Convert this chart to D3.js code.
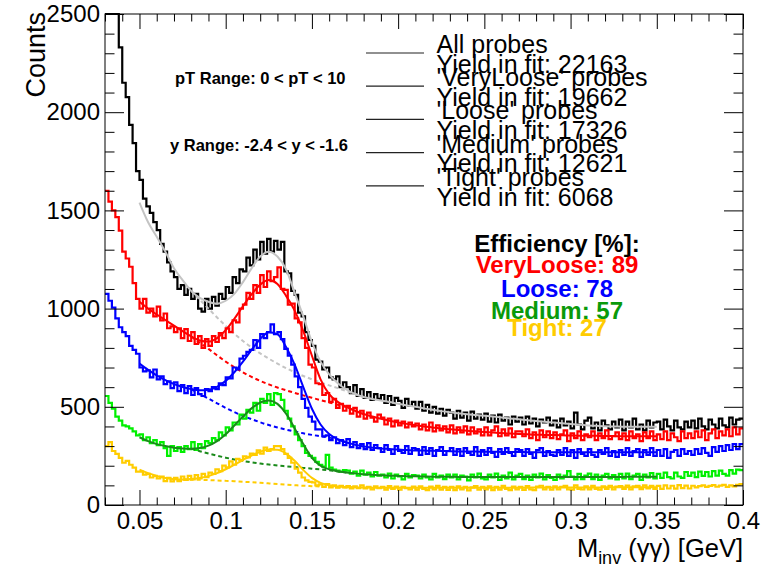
<!DOCTYPE html>
<html>
<head>
<meta charset="utf-8">
<script src="https://cdn.jsdelivr.net/npm/d3@7"></script>
<style>
  body { margin: 0; background: #fff; }
  svg { display: block; }
  text { font-family: "Liberation Sans", Arial, Helvetica, sans-serif; }
</style>
</head>
<body>
<svg id="chart" width="776" height="571"></svg>
<script>
// Invariant-mass histogram range and binning
const massMin = 0.03, massMax = 0.4, binWidth = 0.002;

// Counts per bin (0.030 ... 0.400 GeV, 2 MeV bins)
const countsAll = [
  2950, 2830, 2680, 2560, 2330, 2150, 2077, 1935, 1843, 1700,
  1655, 1560, 1520, 1487, 1440, 1400, 1330, 1290, 1235, 1190,
  1160, 1100, 1120, 1070, 1100, 1050, 1075, 1000, 985, 1050,
  1000, 1060, 1015, 1075, 1050, 1110, 1080, 1160, 1130, 1200,
  1190, 1260, 1220, 1300, 1250, 1340, 1280, 1355, 1290, 1345,
  1300, 1340, 1190, 1180, 1090, 1070, 980, 960, 880, 840,
  810, 740, 730, 690, 700, 650, 640, 655, 600, 625,
  600, 570, 610, 555, 590, 545, 575, 535, 565, 540,
  560, 520, 555, 510, 545, 530, 495, 540, 505, 525,
  490, 525, 480, 510, 470, 500, 465, 490, 455, 485,
  470, 440, 480, 445, 470, 430, 475, 440, 460, 435,
  465, 425, 455, 420, 460, 430, 445, 410, 450, 425,
  445, 410, 450, 415, 440, 400, 435, 420, 445, 405,
  430, 395, 440, 405, 425, 390, 470, 410, 385, 430,
  445, 390, 420, 380, 430, 405, 385, 425, 395, 435,
  380, 425, 395, 440, 385, 410, 380, 430, 395, 420,
  425, 385, 435, 400, 380, 430, 395, 385, 425, 395,
  430, 390, 440, 400, 385, 435, 410, 390, 440, 405,
  395, 445, 410, 435, 440
];
const countsVeryLoose = [
  1600, 1545, 1500, 1466, 1397, 1290, 1255, 1213, 1130, 1050,
  1000, 1050, 980, 1000, 960, 1010, 940, 975, 900, 910,
  880, 900, 850, 895, 835, 880, 820, 860, 800, 845,
  810, 860, 830, 875, 850, 900, 880, 940, 930, 1000,
  1020, 1080, 1050, 1120, 1080, 1170, 1110, 1190, 1140, 1160,
  1210, 1100, 1095, 1020, 1025, 950, 930, 850, 800, 715,
  700, 620, 615, 560, 570, 525, 540, 495, 515, 480,
  505, 465, 495, 450, 480, 440, 470, 445, 425, 460,
  445, 410, 440, 400, 430, 405, 425, 395, 420, 400,
  415, 385, 410, 380, 420, 375, 405, 380, 400, 370,
  405, 365, 395, 370, 400, 360, 395, 365, 385, 355,
  395, 355, 380, 400, 350, 385, 355, 390, 345, 375,
  375, 350, 385, 340, 370, 330, 380, 345, 375, 340,
  370, 335, 360, 380, 325, 365, 340, 375, 330, 360,
  345, 375, 330, 365, 340, 380, 335, 350, 370, 335,
  365, 330, 375, 340, 360, 325, 370, 340, 375, 330,
  360, 335, 375, 330, 365, 345, 325, 375, 340, 365,
  340, 375, 345, 380, 330, 365, 385, 340, 375, 355,
  385, 350, 395, 360, 390
];
const countsLoose = [
  1075, 1040, 1005, 950, 905, 880, 860, 810, 790, 770,
  700, 680, 685, 650, 690, 640, 655, 615, 630, 595,
  625, 580, 610, 570, 605, 560, 595, 565, 555, 590,
  580, 600, 590, 620, 610, 650, 645, 700, 690, 745,
  760, 780, 790, 840, 800, 870, 850, 880, 920, 870,
  880, 845, 795, 760, 715, 655, 600, 540, 495, 450,
  425, 385, 385, 350, 355, 330, 345, 315, 330, 305,
  335, 295, 320, 290, 310, 285, 315, 280, 305, 290,
  270, 305, 280, 260, 300, 275, 265, 300, 260, 290,
  285, 255, 295, 260, 290, 250, 280, 295, 255, 275,
  290, 255, 285, 250, 290, 265, 255, 295, 250, 280,
  255, 290, 265, 245, 285, 260, 290, 265, 250, 285,
  280, 250, 285, 260, 240, 280, 290, 250, 275, 255,
  250, 280, 255, 290, 250, 280, 240, 285, 260, 250,
  285, 255, 245, 280, 260, 290, 250, 275, 245, 280,
  255, 290, 250, 275, 285, 245, 280, 255, 290, 250,
  280, 250, 285, 240, 270, 280, 250, 285, 260, 275,
  255, 285, 260, 290, 265, 250, 295, 270, 300, 275,
  305, 280, 310, 285, 310
];
const countsMedium = [
  555, 520, 490, 450, 430, 405, 400, 390, 375, 355,
  360, 330, 345, 315, 330, 305, 320, 290, 250, 300,
  275, 295, 270, 300, 285, 320, 280, 310, 290, 325,
  315, 340, 330, 370, 355, 395, 380, 420, 410, 460,
  440, 485, 470, 520, 480, 540, 520, 565, 510, 570,
  565, 535, 480, 440, 400, 360, 330, 300, 265, 250,
  240, 220, 205, 195, 255, 190, 180, 175, 170, 178,
  175, 160, 170, 150, 175, 155, 165, 145, 168, 150,
  155, 140, 160, 135, 155, 145, 130, 158, 140, 152,
  150, 135, 155, 140, 130, 158, 140, 150, 132, 155,
  140, 155, 130, 150, 145, 125, 155, 140, 160, 135,
  130, 155, 140, 160, 128, 150, 135, 165, 130, 150,
  158, 132, 150, 128, 155, 140, 160, 130, 152, 138,
  128, 155, 135, 150, 172, 145, 130, 158, 132, 150,
  160, 132, 155, 128, 150, 158, 135, 152, 130, 158,
  135, 160, 132, 150, 158, 128, 155, 140, 162, 135,
  158, 138, 165, 142, 135, 165, 145, 138, 168, 148,
  165, 142, 170, 148, 168, 145, 172, 150, 175, 158,
  150, 178, 160, 180, 178
];
const countsTight = [
  300, 320, 275, 260, 240, 215, 225, 205, 190, 170,
  170, 155, 158, 140, 148, 135, 145, 122, 138, 120,
  138, 122, 145, 128, 148, 130, 152, 135, 158, 142,
  165, 158, 182, 172, 200, 192, 222, 205, 235, 228,
  248, 242, 262, 255, 278, 262, 292, 275, 285, 300,
  300, 285, 260, 240, 215, 185, 165, 140, 125, 118,
  115, 100, 105, 92, 106, 90, 100, 88, 98, 90,
  96, 84, 95, 86, 100, 84, 92, 80, 95, 86,
  93, 78, 96, 82, 94, 78, 92, 86, 80, 94,
  78, 95, 82, 76, 94, 80, 97, 78, 92, 77,
  92, 76, 95, 80, 93, 74, 90, 96, 78, 92,
  80, 95, 76, 92, 78, 97, 82, 76, 94, 80,
  93, 77, 96, 80, 76, 94, 98, 80, 92, 78,
  95, 80, 93, 97, 80, 78, 100, 82, 79, 95,
  80, 97, 82, 78, 95, 82, 98, 80, 94, 96,
  82, 99, 80, 95, 97, 81, 100, 84, 97, 82,
  97, 82, 100, 84, 98, 83, 101, 86, 99, 84,
  98, 90, 96, 100, 92, 97, 101, 93, 99, 102,
  92, 100, 95, 102, 106
];

// Fit functions (signal + background), sampled every 5 MeV from 0.05 to 0.35 GeV
const fitStart = 0.05, fitStep = 0.005;
const fitAll = [
  1540, 1440, 1366, 1290, 1205, 1145, 1090, 1055, 1035, 1025,
  1040, 1075, 1135, 1205, 1265, 1290, 1265, 1200, 1080, 960,
  830, 730, 665, 620, 588, 565, 550, 540, 532, 524,
  515, 507, 500, 492, 485, 478, 472, 467, 462, 458,
  454, 450, 446, 441, 437, 432, 428, 424, 420, 416,
  412, 408, 405, 403, 401, 400, 399, 398, 398, 398, 398
];
const fitVeryLoose = [
  1035, 1000, 970, 942, 913, 885, 858, 838, 832, 850,
  890, 948, 1012, 1072, 1122, 1145, 1125, 1065, 990, 885,
  760, 640, 565, 525, 500, 480, 463, 451, 439, 429,
  420, 413, 406, 400, 395, 390, 386, 382, 378, 375,
  372, 369, 366, 364, 362, 360, 358, 357, 356, 355,
  354, 353, 352, 352, 351, 351, 350, 350, 350, 350, 350
];
const fitLoose = [
  720, 688, 660, 636, 616, 601, 590, 584, 587, 602,
  632, 676, 730, 790, 845, 880, 870, 805, 715, 600,
  490, 410, 362, 335, 318, 307, 298, 292, 288, 285,
  282, 280, 278, 277, 276, 275, 274, 273, 272, 272,
  271, 271, 270, 270, 270, 269, 269, 269, 268, 268,
  268, 268, 268, 268, 268, 268, 268, 268, 268, 268, 268
];
const fitMedium = [
  345, 325, 310, 300, 292, 288, 287, 290, 302, 325,
  360, 405, 450, 492, 522, 532, 515, 465, 390, 310,
  240, 200, 182, 172, 166, 161, 157, 154, 151, 149,
  148, 147, 146, 145, 144, 144, 144, 143, 143, 143,
  143, 143, 143, 143, 143, 143, 143, 143, 143, 143,
  143, 143, 143, 143, 143, 143, 143, 144, 144, 144, 144
];
const fitTight = [
  180, 162, 148, 137, 131, 130, 132, 137, 147, 162,
  182, 205, 229, 252, 271, 283, 281, 262, 225, 178,
  138, 113, 101, 94, 91, 90, 89, 88, 88, 88,
  88, 88, 88, 88, 88, 88, 88, 88, 88, 88,
  88, 88, 88, 88, 88, 88, 89, 89, 89, 89,
  89, 89, 89, 89, 90, 90, 90, 90, 90, 90, 90
];

// Background component under the peak (same 5 MeV sampling, from its own start)
const bgAllStart = 0.08;
const bgAll = [1090, 1045, 1000, 955, 912, 872, 835, 802, 772, 745, 720, 697, 676, 657, 640, 624, 609, 595, 580, 565, 550];
const bgVeryLooseStart = 0.08;
const bgVeryLoose = [858, 826, 795, 762, 730, 701, 675, 652, 632, 614, 598, 584, 571, 558, 546, 534, 522, 510, 498, 480, 463];
const bgLooseStart = 0.08;
const bgLoose = [590, 565, 542, 518, 494, 473, 454, 437, 421, 407, 395, 384, 374, 365, 357, 350, 343, 333, 318];
const bgMediumStart = 0.08;
const bgMedium = [287, 274, 262, 251, 241, 232, 224, 217, 211, 206, 201, 197, 193, 189, 185, 181, 177, 171, 166];
const bgTightStart = 0.075;
const bgTight = [130, 129, 128, 127, 125, 123, 121, 118, 116, 113, 110, 107, 104, 101, 98, 96, 94, 92, 91, 90, 90];

// Axis ticks
const xMajorTicks = [0.05, 0.1, 0.15, 0.2, 0.25, 0.3, 0.35, 0.4];
const yMajorTicks = [0, 500, 1000, 1500, 2000, 2500];

// Legend and annotation text
const legendLabels = ["All probes", "'VeryLoose' probes", "'Loose' probes", "'Medium' probes", "'Tight' probes"];
const fitYields = [22163, 19662, 17326, 12621, 6068];
const effNames = ["VeryLoose", "Loose", "Medium", "Tight"];
const effValues = [89, 78, 57, 27];

// ---------------------------------------------------------------
const svg = d3.select("#chart");
const frame = { left: 105, right: 743, top: 14, bottom: 505 };

const x = d3.scaleLinear().domain([massMin, massMax]).range([frame.left, frame.right]);
const y = d3.scaleLinear().domain([0, 2500]).range([frame.bottom, frame.top]).clamp(true);

const series = [
  { counts: countsAll, fit: fitAll, bg: bgAll, bgStart: bgAllStart, data: "#000000", fitColor: "#c4c4c4" },
  { counts: countsVeryLoose, fit: fitVeryLoose, bg: bgVeryLoose, bgStart: bgVeryLooseStart, data: "#ff0000", fitColor: "#ff0000" },
  { counts: countsLoose, fit: fitLoose, bg: bgLoose, bgStart: bgLooseStart, data: "#0000ff", fitColor: "#0000ff" },
  { counts: countsMedium, fit: fitMedium, bg: bgMedium, bgStart: bgMediumStart, data: "#00f000", fitColor: "#1a8a1a" },
  { counts: countsTight, fit: fitTight, bg: bgTight, bgStart: bgTightStart, data: "#ffcc00", fitColor: "#ffcc00" }
];

const stepLine = d3.line().x(d => x(d[0])).y(d => y(d[1])).curve(d3.curveStepAfter);
const smoothLine = d3.line().x(d => x(d[0])).y(d => y(d[1])).curve(d3.curveMonotoneX);

function histPoints(counts) {
  const pts = counts.map((c, i) => [massMin + i * binWidth, c]);
  pts.push([massMin + counts.length * binWidth, counts[counts.length - 1]]);
  return pts;
}
function sampled(values, start) {
  return values.map((v, i) => [start + i * fitStep, v]);
}

const plot = svg.append("g");
series.forEach(s => {
  plot.append("path")
    .attr("d", stepLine(histPoints(s.counts)))
    .attr("fill", "none").attr("stroke", s.data).attr("stroke-width", 2.2);
  plot.append("path")
    .attr("d", smoothLine(sampled(s.fit, fitStart)))
    .attr("fill", "none").attr("stroke", s.fitColor).attr("stroke-width", 2);
  plot.append("path")
    .attr("d", smoothLine(sampled(s.bg, s.bgStart)))
    .attr("fill", "none").attr("stroke", s.fitColor).attr("stroke-width", 2)
    .attr("stroke-dasharray", "4,3");
});

// Frame
svg.append("rect")
  .attr("x", frame.left).attr("y", frame.top)
  .attr("width", frame.right - frame.left).attr("height", frame.bottom - frame.top)
  .attr("fill", "none").attr("stroke", "#000").attr("stroke-width", 1);

// Axes with inward ticks on all four sides
const xMinorTicks = d3.range(3, 41).filter(k => k % 5 !== 0).map(k => k / 100);
const yMinorTicks = d3.range(0, 2501, 100).filter(v => v % 500 !== 0);
const fontStack = '"Liberation Sans", Arial, Helvetica, sans-serif';

function addAxis(gen, transform, fontSize) {
  const g = svg.append("g").attr("transform", transform).call(gen);
  g.select(".domain").remove();
  g.selectAll("line").attr("stroke", "#000").attr("stroke-width", 1);
  g.attr("font-size", fontSize || 10).attr("font-family", fontStack);
  return g;
}
const noLabel = () => "";

addAxis(d3.axisBottom(x).tickValues(xMajorTicks).tickSize(-15).tickPadding(7).tickFormat(d3.format("~g")),
  `translate(0,${frame.bottom})`, 24);
addAxis(d3.axisBottom(x).tickValues(xMinorTicks).tickSize(-7.5).tickFormat(noLabel), `translate(0,${frame.bottom})`);
addAxis(d3.axisTop(x).tickValues(xMajorTicks).tickSize(-15).tickFormat(noLabel), `translate(0,${frame.top})`);
addAxis(d3.axisTop(x).tickValues(xMinorTicks).tickSize(-7.5).tickFormat(noLabel), `translate(0,${frame.top})`);

addAxis(d3.axisLeft(y).tickValues(yMajorTicks).tickSize(-19).tickPadding(5).tickFormat(d3.format("d")),
  `translate(${frame.left},0)`, 24);
addAxis(d3.axisLeft(y).tickValues(yMinorTicks).tickSize(-9.5).tickFormat(noLabel), `translate(${frame.left},0)`);
addAxis(d3.axisRight(y).tickValues(yMajorTicks).tickSize(-19).tickFormat(noLabel), `translate(${frame.right},0)`);
addAxis(d3.axisRight(y).tickValues(yMinorTicks).tickSize(-9.5).tickFormat(noLabel), `translate(${frame.right},0)`);

// Axis titles
svg.append("text")
  .attr("transform", "translate(45,12) rotate(-90)")
  .attr("text-anchor", "end").attr("font-size", 27)
  .text("Counts");

const xTitle = svg.append("text")
  .attr("x", frame.right).attr("y", 557)
  .attr("text-anchor", "end").attr("font-size", 25.5);
xTitle.append("tspan").text("M");
xTitle.append("tspan").attr("font-size", 18).attr("dy", 7).text("inv");
xTitle.append("tspan").attr("dy", -7).text(" (\u03b3\u03b3) [GeV]");

// Kinematic range labels
svg.append("text").attr("x", 175).attr("y", 84)
  .attr("font-size", 16.5).attr("font-weight", "bold")
  .text("pT Range: 0 < pT < 10");
svg.append("text").attr("x", 170).attr("y", 150.5)
  .attr("font-size", 16.5).attr("font-weight", "bold")
  .text("y Range: -2.4 < y < -1.6");

// Legend
const legend = svg.append("g");
legendLabels.forEach((label, i) => {
  const base = 53 + 33.2 * i;
  legend.append("line")
    .attr("x1", 366).attr("x2", 424).attr("y1", base).attr("y2", base)
    .attr("stroke", "#222").attr("stroke-width", 1.2);
  legend.append("text").attr("x", 436.5).attr("y", base)
    .attr("font-size", 25).text(label);
  legend.append("text").attr("x", 436.5).attr("y", base + 19.7)
    .attr("font-size", 25).text("Yield in fit: " + fitYields[i]);
});

// Efficiency summary
const effColors = ["#ff0000", "#0000ff", "#0a9a0a", "#ffcc00"];
const effBaselines = [273, 297, 319, 336];
svg.append("text").attr("x", 557).attr("y", 252)
  .attr("text-anchor", "middle").attr("font-size", 24).attr("font-weight", "bold")
  .text("Efficiency [%]:");
effNames.forEach((name, i) => {
  svg.append("text").attr("x", 557).attr("y", effBaselines[i])
    .attr("text-anchor", "middle").attr("font-size", 24).attr("font-weight", "bold")
    .attr("fill", effColors[i])
    .text(name + ": " + effValues[i]);
});
</script>
</body>
</html>
